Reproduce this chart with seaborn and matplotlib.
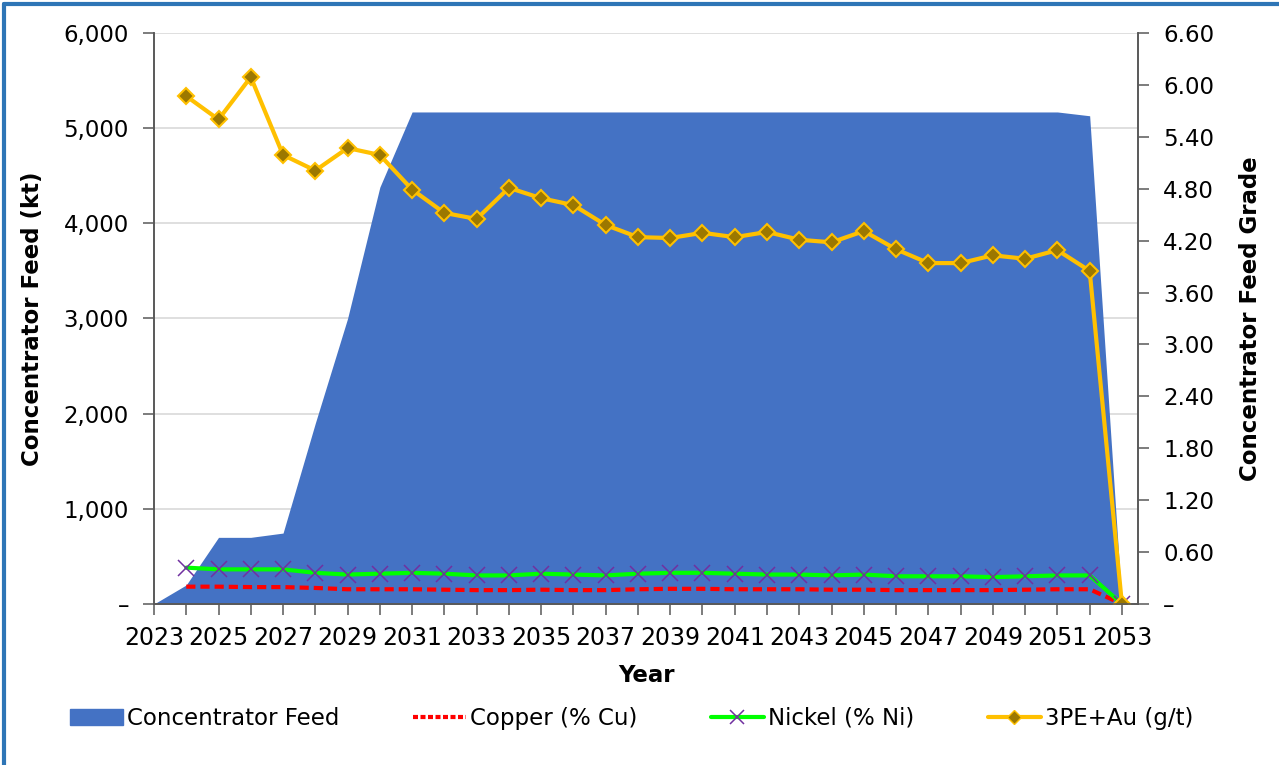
import numpy as np
import pandas as pd
import matplotlib.pyplot as plt
import seaborn as sns
from matplotlib.patches import Patch
from matplotlib.lines import Line2D
from matplotlib.ticker import FuncFormatter, MultipleLocator, FixedLocator

# feed tonnage (kt), 2023-2053
feed_years = list(range(2023, 2054))
feed_kt = [0, 200, 700, 700, 745, 1900, 3000, 4380, 5170, 5170,
           5170, 5170, 5170, 5170, 5170, 5170, 5170, 5170, 5170, 5170,
           5170, 5170, 5170, 5170, 5170, 5170, 5170, 5170, 5170, 5130, 0]

# grades, 2024-2053
grade_years = list(range(2024, 2054))
copper = [0.20, 0.20, 0.195, 0.195, 0.185, 0.17, 0.17, 0.17, 0.165, 0.16,
          0.16, 0.165, 0.16, 0.16, 0.17, 0.175, 0.175, 0.17, 0.17, 0.17,
          0.165, 0.165, 0.16, 0.16, 0.16, 0.16, 0.165, 0.17, 0.17, 0.0]
nickel = [0.42, 0.40, 0.40, 0.40, 0.36, 0.34, 0.35, 0.36, 0.35, 0.33,
          0.33, 0.35, 0.34, 0.33, 0.35, 0.36, 0.36, 0.35, 0.34, 0.34,
          0.33, 0.34, 0.32, 0.32, 0.32, 0.31, 0.32, 0.33, 0.33, 0.0]
pge_au = [5.87, 5.60, 6.09, 5.19, 5.01, 5.27, 5.19, 4.79, 4.52, 4.45,
          4.81, 4.69, 4.61, 4.38, 4.24, 4.23, 4.29, 4.24, 4.30, 4.21,
          4.18, 4.31, 4.10, 3.94, 3.94, 4.03, 3.99, 4.09, 3.85, 0.0]
year_labels = list(range(2023, 2054, 2))

df_feed = pd.DataFrame({"Year": feed_years, "Feed": feed_kt})
df_grade = pd.DataFrame({"Year": grade_years, "Cu": copper, "Ni": nickel, "PGE": pge_au})

sns.set_style("white")
plt.rcParams['font.family'] = ['DejaVu Sans']
plt.rcParams['font.size'] = 15
plt.rcParams['text.color'] = 'black'
plt.rcParams['axes.labelcolor'] = 'black'

fig = plt.figure(figsize=(12.79, 7.65), dpi=100)
ax = fig.add_axes([0.1204, 0.2105, 0.7694, 0.7464])
ax2 = ax.twinx()

blue = "#4472C4"
ax.fill_between(df_feed["Year"], df_feed["Feed"], color=blue, linewidth=0, zorder=2)

sns.lineplot(data=df_grade, x="Year", y="Cu", ax=ax2, color="#FF0000",
             linewidth=3, linestyle=(0, (2.2, 1.2)))
sns.lineplot(data=df_grade, x="Year", y="Ni", ax=ax2, color="#00FF00",
             linewidth=3, marker="x", markersize=12, markeredgecolor="#7030A0",
             markeredgewidth=1.1)
sns.lineplot(data=df_grade, x="Year", y="PGE", ax=ax2, color="#FFC000",
             linewidth=3, marker="D", markersize=8, markerfacecolor="#9C7800",
             markeredgecolor="#FFC000", markeredgewidth=1.5)

ax.set_xlim(2023, 2053.5)
ax.set_ylim(0, 6000)
ax2.set_ylim(0, 6.6)

ax.xaxis.set_major_locator(FixedLocator(year_labels))
ax.xaxis.set_minor_locator(MultipleLocator(1))
ax.yaxis.set_major_locator(MultipleLocator(1000))
ax2.yaxis.set_major_locator(MultipleLocator(0.6))

ax.yaxis.set_major_formatter(FuncFormatter(lambda v, p: "–" if v == 0 else f"{v:,.0f}"))
ax2.yaxis.set_major_formatter(FuncFormatter(lambda v, p: "–" if abs(v) < 1e-9 else f"{v:.2f}"))
ax.xaxis.set_major_formatter(FuncFormatter(lambda v, p: f"{int(v)}"))

ax.grid(axis="y", color="#D9D9D9", linewidth=1.2)
ax.set_axisbelow(True)

for a in (ax, ax2):
    a.spines["top"].set_visible(False)
    for s in ("left", "right", "bottom"):
        a.spines[s].set_color("#595959")
        a.spines[s].set_linewidth(1.2)

ax.tick_params(axis="x", which="both", direction="out", length=8, width=1.1,
               color="#595959", labelcolor="black", labelsize=17, bottom=True, pad=8)
ax.tick_params(axis="y", direction="out", length=8, width=1.1, color="#595959",
               labelcolor="black", labelsize=16.5, left=True, pad=10)
ax2.tick_params(axis="y", direction="out", length=8, width=1.1, color="#595959",
                labelcolor="black", labelsize=16.5, right=True, pad=10)

ax.set_xlabel("Year", fontsize=16.5, fontweight="bold", labelpad=10)
ax.set_ylabel("Concentrator Feed (kt)", fontsize=16.5, fontweight="bold", labelpad=14)
ax2.set_ylabel("Concentrator Feed Grade", fontsize=16.5, fontweight="bold", labelpad=18)

handles = [
    Patch(facecolor=blue, edgecolor=blue),
    Line2D([], [], color="#FF0000", linewidth=3, linestyle=(0, (1.2, 0.6))),
    Line2D([], [], color="#00FF00", linewidth=3, marker="x", markersize=10,
           markeredgecolor="#7030A0", markeredgewidth=1.1),
    Line2D([], [], color="#FFC000", linewidth=3, marker="D", markersize=7,
           markerfacecolor="#9C7800", markeredgecolor="#FFC000"),
]
labels = ["Concentrator Feed", "Copper (% Cu)", "Nickel (% Ni)", "3PE+Au (g/t)"]
fig.legend(handles, labels, loc="center", bbox_to_anchor=(0.494, 0.061), ncol=4,
           frameon=False, fontsize=16.5, handlelength=2.3, handletextpad=0.2,
           columnspacing=3.2)

# blue frame around the figure
fig.add_artist(Line2D([0.003, 1.0], [0.9948, 0.9948], color="#2E75B6", linewidth=3,
                      transform=fig.transFigure))
fig.add_artist(Line2D([0.003, 0.003], [0.0, 0.9948], color="#2E75B6", linewidth=3,
                      transform=fig.transFigure))

fig.savefig("out.png", dpi=100)
